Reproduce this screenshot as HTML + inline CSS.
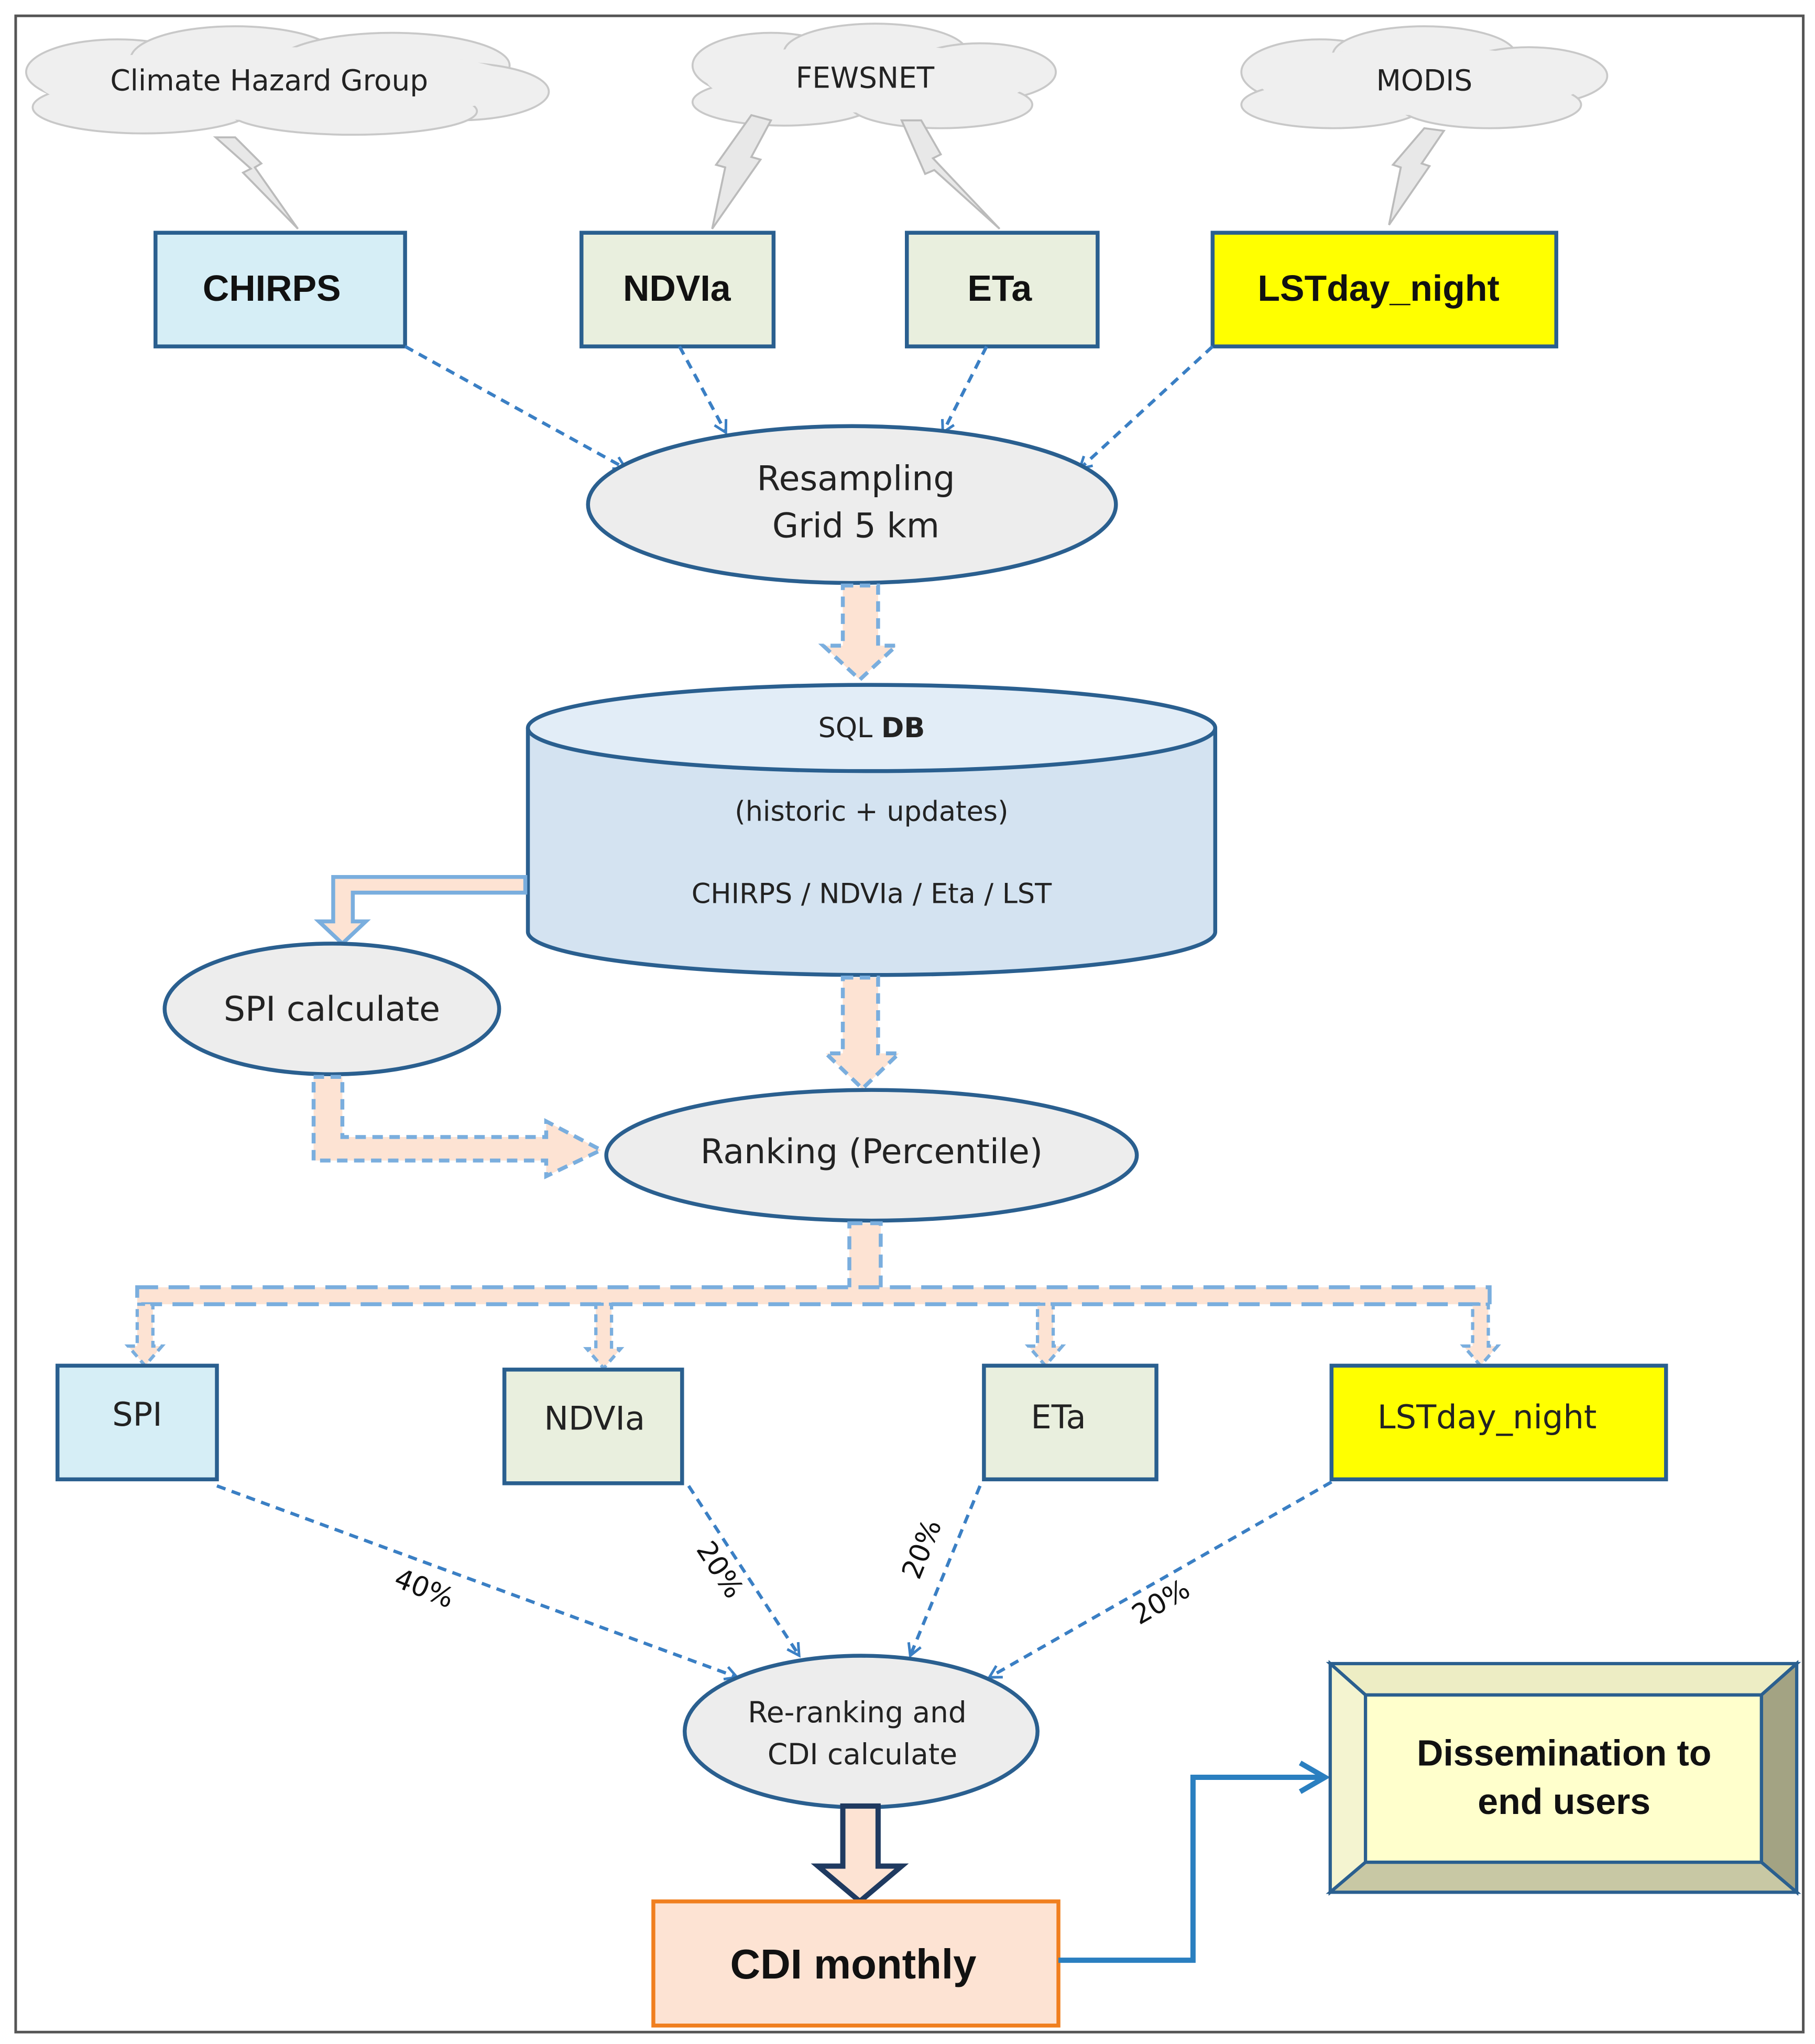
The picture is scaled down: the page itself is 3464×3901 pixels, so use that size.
<!DOCTYPE html>
<html><head><meta charset="utf-8"><style>
html,body{margin:0;padding:0;background:#fff;}
svg{display:block;}
text{font-family:"DejaVu Sans","Liberation Sans",sans-serif;}
.b{font-family:"Liberation Sans","DejaVu Sans",sans-serif;font-weight:bold;}
</style></head><body>
<svg width="3464" height="3901" viewBox="0 0 1389 1564" xmlns="http://www.w3.org/2000/svg">
<defs>
<marker id="ah" markerWidth="12" markerHeight="12" refX="9" refY="6" orient="auto" markerUnits="userSpaceOnUse">
<path d="M1,1 L10,6 L1,11" fill="none" stroke="#3a7fc4" stroke-width="2"/></marker>
<marker id="ah2" markerWidth="30" markerHeight="30" refX="22" refY="15" orient="auto" markerUnits="userSpaceOnUse">
<path d="M4,4 L23,15 L4,26" fill="none" stroke="#2a7fc0" stroke-width="4"/></marker>
</defs>
<rect x="0" y="0" width="1389" height="1564" fill="#fff"/>
<rect x="12" y="12" width="1368" height="1543" fill="none" stroke="#555" stroke-width="2"/>

<g fill="#efefef" stroke="#c8c8c8" stroke-width="1.5">
<ellipse cx="90" cy="55" rx="70" ry="25"/><ellipse cx="180" cy="45" rx="80" ry="25"/><ellipse cx="300" cy="50" rx="90" ry="25"/><ellipse cx="350" cy="70" rx="70" ry="22"/><ellipse cx="110" cy="82" rx="85" ry="20"/><ellipse cx="270" cy="85" rx="95" ry="18"/>
<ellipse cx="590" cy="50" rx="60" ry="25"/><ellipse cx="670" cy="40" rx="70" ry="22"/><ellipse cx="750" cy="55" rx="58" ry="22"/><ellipse cx="600" cy="78" rx="70" ry="18"/><ellipse cx="720" cy="80" rx="70" ry="18"/>
<ellipse cx="1010" cy="55" rx="60" ry="25"/><ellipse cx="1090" cy="42" rx="70" ry="22"/><ellipse cx="1170" cy="58" rx="60" ry="22"/><ellipse cx="1020" cy="80" rx="70" ry="18"/><ellipse cx="1140" cy="80" rx="70" ry="18"/>
</g>
<g fill="#efefef">
<ellipse cx="215" cy="64" rx="185" ry="28"/><ellipse cx="665" cy="60" rx="125" ry="26"/><ellipse cx="1088" cy="62" rx="125" ry="26"/>
</g>
<text x="206" y="69" font-size="22" text-anchor="middle" fill="#222">Climate Hazard Group</text>
<text x="662" y="67" font-size="22" text-anchor="middle" fill="#222">FEWSNET</text>
<text x="1090" y="69" font-size="22" text-anchor="middle" fill="#222">MODIS</text>
<g fill="#e8e8e8" stroke="#bbb" stroke-width="1.5">
<polygon points="165,105 180,105 200,125 195,128 228,175 186,132 192,129"/>
<polygon points="575,88 590,92 575,120 582,122 545,175 555,128 548,126"/>
<polygon points="690,92 705,92 720,118 714,121 765,175 715,130 708,133"/>
<polygon points="1090,98 1105,100 1088,125 1094,127 1063,172 1072,128 1066,126"/>
</g>

<g stroke="#2a5f8f" stroke-width="3">
<rect x="119" y="178" width="191" height="87" fill="#d6eef6"/>
<rect x="445" y="178" width="147" height="87" fill="#e9efde"/>
<rect x="694" y="178" width="146" height="87" fill="#e9efde"/>
<rect x="928" y="178" width="263" height="87" fill="#ffff00"/>
</g>
<g font-size="28" fill="#111" text-anchor="middle" class="b">
<text class="b" x="208" y="230">CHIRPS</text><text class="b" x="518" y="230">NDVIa</text><text class="b" x="765" y="230">ETa</text><text class="b" x="1055" y="230">LSTday_night</text>
</g>

<g stroke="#3a7fc4" stroke-width="2.5" stroke-dasharray="7,5" fill="none" marker-end="url(#ah)">
<line x1="310" y1="265" x2="478" y2="358"/>
<line x1="520" y1="265" x2="555" y2="330"/>
<line x1="755" y1="265" x2="722" y2="330"/>
<line x1="928" y1="265" x2="827" y2="358"/>
</g>

<ellipse cx="652" cy="386" rx="202" ry="60" fill="#ededed" stroke="#2a5f8f" stroke-width="3"/>
<text x="655" y="375" font-size="26" text-anchor="middle" fill="#222">Resampling</text>
<text x="655" y="411" font-size="26" text-anchor="middle" fill="#222">Grid 5 km</text>

<polygon points="645,448 672,448 672,494 686,494 658,520 630,494 645,494" fill="#fde3d3" stroke="#7aaede" stroke-width="3" stroke-dasharray="8,5"/>

<path d="M404,557 L404,713 A263,33 0 0 0 930,713 L930,557" fill="#d4e3f1" stroke="#2a5f8f" stroke-width="3"/>
<ellipse cx="667" cy="557" rx="263" ry="33" fill="#e2edf7" stroke="#2a5f8f" stroke-width="3"/>
<text x="667" y="564" font-size="21" text-anchor="middle" fill="#222">SQL <tspan font-weight="bold">DB</tspan></text>
<text x="667" y="628" font-size="21" text-anchor="middle" fill="#222">(historic + updates)</text>
<text x="667" y="691" font-size="21" text-anchor="middle" fill="#222">CHIRPS / NDVIa / Eta / LST</text>

<polygon points="402,671 402,683 270,683 270,705 280,705 262,722 244,705 255,705 255,671" fill="#fde3d3" stroke="#7aaede" stroke-width="3"/>

<polygon points="645,748 672,748 672,806 688,806 660,833 632,806 645,806" fill="#fde3d3" stroke="#7aaede" stroke-width="3" stroke-dasharray="8,5"/>

<ellipse cx="254" cy="772" rx="128" ry="50" fill="#ededed" stroke="#2a5f8f" stroke-width="3"/>
<text x="254" y="781" font-size="26" text-anchor="middle" fill="#222">SPI calculate</text>

<polygon points="240,824 262,824 262,870 418,870 418,858 460,880 418,900 418,888 240,888" fill="#fde3d3" stroke="#7aaede" stroke-width="3" stroke-dasharray="8,5"/>

<ellipse cx="667" cy="884" rx="203" ry="50" fill="#ededed" stroke="#2a5f8f" stroke-width="3"/>
<text x="667" y="890" font-size="26" text-anchor="middle" fill="#222">Ranking (Percentile)</text>

<rect x="650" y="936" width="24" height="58" fill="#fde3d3" stroke="#7aaede" stroke-width="3" stroke-dasharray="10,6"/>
<rect x="105" y="985" width="1035" height="13" fill="#fde3d3" stroke="#7aaede" stroke-width="3" stroke-dasharray="16,8"/>
<g fill="#fde3d3" stroke="#7aaede" stroke-width="2.5" stroke-dasharray="6,4">
<polygon points="105,998 117,998 117,1030 124,1030 111,1045 98,1030 105,1030"/>
<polygon points="456,998 468,998 468,1032 475,1032 462,1047 449,1032 456,1032"/>
<polygon points="794,998 806,998 806,1030 813,1030 800,1045 787,1030 794,1030"/>
<polygon points="1127,998 1139,998 1139,1030 1146,1030 1133,1045 1120,1030 1127,1030"/>
</g>

<g stroke="#2a5f8f" stroke-width="3">
<rect x="44" y="1045" width="122" height="87" fill="#d6eef6"/>
<rect x="386" y="1048" width="136" height="87" fill="#e9efde"/>
<rect x="753" y="1045" width="132" height="87" fill="#e9efde"/>
<rect x="1019" y="1045" width="256" height="87" fill="#ffff00"/>
</g>
<g font-size="25" fill="#222" text-anchor="middle">
<text x="105" y="1091">SPI</text><text x="455" y="1094">NDVIa</text><text x="810" y="1093">ETa</text><text x="1138" y="1093">LSTday_night</text>
</g>

<g stroke="#3a7fc4" stroke-width="2.5" stroke-dasharray="7,5" fill="none" marker-end="url(#ah)">
<line x1="166" y1="1137" x2="563" y2="1283"/>
<line x1="527" y1="1137" x2="611" y2="1266"/>
<line x1="750" y1="1137" x2="697" y2="1266"/>
<line x1="1019" y1="1134" x2="758" y2="1283"/>
</g>
<g font-size="21" fill="#111" text-anchor="middle">
<text x="322" y="1222" transform="rotate(22 322 1222)">40%</text>
<text x="545" y="1205" transform="rotate(57 545 1205)">20%</text>
<text x="712" y="1188" transform="rotate(-68 712 1188)">20%</text>
<text x="892" y="1232" transform="rotate(-30 892 1232)">20%</text>
</g>

<ellipse cx="659" cy="1325" rx="135" ry="58" fill="#ededed" stroke="#2a5f8f" stroke-width="3"/>
<text x="656" y="1318" font-size="22" text-anchor="middle" fill="#222">Re-ranking and</text>
<text x="660" y="1350" font-size="22" text-anchor="middle" fill="#222">CDI calculate</text>

<polygon points="645,1382 672,1382 672,1428 690,1428 658,1455 626,1428 645,1428" fill="#fde3d3" stroke="#1f3a60" stroke-width="4"/>

<rect x="500" y="1455" width="310" height="95" fill="#fde3d3" stroke="#f07f1f" stroke-width="3"/>
<text class="b" x="653" y="1514" font-size="32" text-anchor="middle" fill="#111">CDI monthly</text>

<polyline points="810,1500 913,1500 913,1360 1013,1360" fill="none" stroke="#2a7fc0" stroke-width="4" marker-end="url(#ah2)"/>

<polygon points="1018,1273 1375,1273 1348,1297 1045,1297" fill="#ededc4" stroke="#2a5f8f" stroke-width="2.5"/>
<polygon points="1018,1273 1045,1297 1045,1425 1018,1448" fill="#f4f4d0" stroke="#2a5f8f" stroke-width="2.5"/>
<polygon points="1375,1273 1375,1448 1348,1425 1348,1297" fill="#a3a383" stroke="#2a5f8f" stroke-width="2.5"/>
<polygon points="1018,1448 1045,1425 1348,1425 1375,1448" fill="#c8c8a4" stroke="#2a5f8f" stroke-width="2.5"/>
<rect x="1045" y="1297" width="303" height="128" fill="#ffffcc" stroke="#2a5f8f" stroke-width="2.5"/>
<text class="b" x="1197" y="1351" font-size="28" text-anchor="middle" fill="#111">Dissemination to</text>
<text class="b" x="1197" y="1388" font-size="28" text-anchor="middle" fill="#111">end users</text>
</svg>
</body></html>
